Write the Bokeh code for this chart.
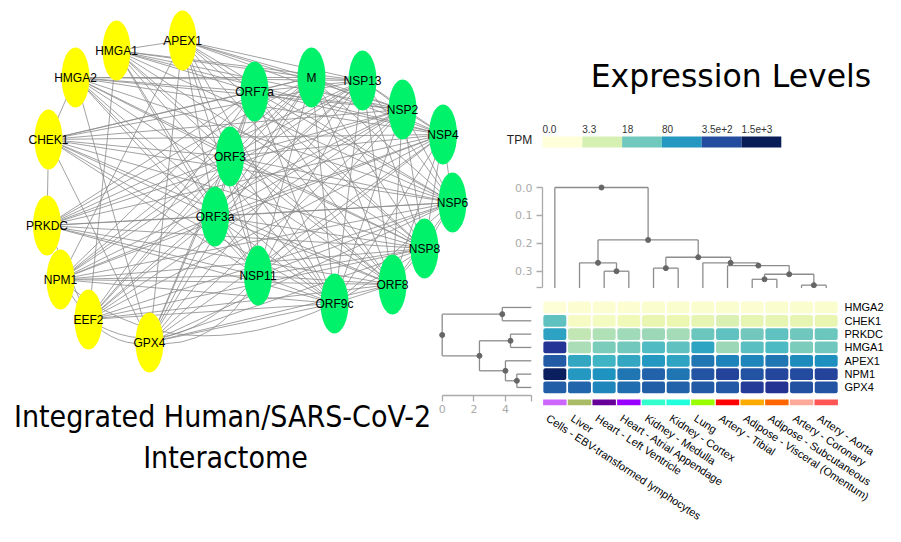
import numpy as np
from bokeh.plotting import figure
from bokeh.models import Range1d, LinearAxis, FixedTicker, ColumnDataSource, LinearColorMapper
from bokeh.core.properties import value
from bokeh.transform import transform
from bokeh.embed import file_html
from bokeh.resources import INLINE

W, H = 885, 526

# ---------------- network data ----------------
node_names = ["APEX1", "HMGA1", "HMGA2", "CHEK1", "PRKDC", "NPM1", "EEF2", "GPX4",
              "ORF7a", "M", "NSP13", "NSP2", "NSP4", "NSP6", "NSP8", "ORF8", "ORF9c",
              "NSP11", "ORF3a", "ORF3"]
node_group = ["human"] * 8 + ["viral"] * 12
node_x = [182, 116, 75, 48, 46.5, 60, 88, 149,
          254, 311, 362, 402, 442.5, 452, 424, 392, 334, 257.5, 214.5, 229.5]
node_y = [40, 50, 77, 139, 225, 279, 319, 342,
          91, 77, 80, 109, 134, 202, 248, 284, 303, 275, 216, 156]

edge_lists = [
    ("APEX1", "HMGA1 ORF7a M NSP13 NSP2 NSP4 NSP6 NSP8 ORF8 ORF9c NSP11 ORF3a ORF3 NPM1 GPX4"),
    ("HMGA1", "ORF7a M NSP13 NSP2 NSP4 NSP6 NSP8 ORF8 ORF9c NSP11 ORF3a ORF3 EEF2"),
    ("HMGA2", "CHEK1 ORF7a M NSP13 NSP2 NSP4 NSP6 NSP8 ORF8 ORF9c NSP11 ORF3a ORF3 GPX4"),
    ("CHEK1", "PRKDC ORF7a M NSP13 NSP2 NSP4 NSP6 NSP8 ORF8 ORF9c NSP11 ORF3a ORF3 GPX4"),
    ("PRKDC", "ORF7a M NSP13 NSP2 NSP4 NSP6 NSP8 ORF8 ORF9c NSP11 ORF3a ORF3 EEF2"),
    ("NPM1", "EEF2 ORF7a M NSP13 NSP2 NSP4 NSP6 NSP8 ORF8 ORF9c NSP11 ORF3a ORF3"),
    ("EEF2", "ORF7a M NSP13 NSP2 NSP4 NSP6 NSP8 ORF8 ORF9c ORF3a ORF3"),
    ("GPX4", "ORF7a M NSP13 NSP2 NSP4 NSP6 NSP8 ORF8 ORF9c ORF3a ORF3"),
    ("ORF7a", "M NSP13 NSP2 NSP4 NSP6 NSP8 ORF8 ORF9c NSP11 ORF3a ORF3"),
    ("M", "NSP13 NSP2 NSP4 NSP6 NSP8 ORF8 ORF9c NSP11 ORF3a ORF3"),
    ("NSP13", "NSP2 NSP4 NSP6 NSP8 ORF8 ORF9c NSP11 ORF3a ORF3"),
    ("NSP2", "NSP4 NSP6 NSP8 ORF8 ORF9c NSP11 ORF3a ORF3"),
    ("NSP4", "NSP6 NSP8 ORF8 ORF9c NSP11 ORF3a ORF3"),
    ("NSP6", "NSP8 ORF8 ORF9c NSP11 ORF3a ORF3"),
    ("NSP8", "ORF8 ORF9c NSP11 ORF3a ORF3"),
    ("ORF8", "ORF9c NSP11 ORF3a ORF3"),
    ("ORF9c", "NSP11 ORF3a ORF3"),
    ("NSP11", "ORF3a ORF3"),
    ("ORF3a", "ORF3"),
]
# curved edges: source, target, control point
curve_src = ["EEF2", "GPX4", "EEF2", "NPM1"]
curve_tgt = ["GPX4", "NSP11", "NSP11", "ORF9c"]
curve_cx = [118, 215, 170, 175]
curve_cy = [348, 352, 372, 378]

# ---------------- expression data ----------------
tissues = ["Cells - EBV-transformed lymphocytes", "Liver", "Heart - Left Ventricle",
           "Heart - Atrial Appendage", "Kidney - Medulla", "Kidney - Cortex", "Lung",
           "Artery - Tibial", "Adipose - Visceral (Omentum)", "Adipose - Subcutaneous",
           "Artery - Coronary", "Artery - Aorta"]
tissue_colors = ["#cc66ff", "#aabb66", "#660099", "#9900ff", "#33ffcc", "#22ffdd",
                 "#99ff00", "#ff0000", "#ffaa00", "#ff6600", "#ffaa99", "#ff5555"]
genes = ["HMGA2", "CHEK1", "PRKDC", "HMGA1", "APEX1", "NPM1", "GPX4"]
tpm_HMGA2 = [0.1, 0.2, 0.2, 0.2, 0.3, 0.3, 0.3, 0.3, 0.2, 0.3, 0.3, 0.3]
tpm_CHEK1 = [24, 0.7, 0.8, 1.2, 1.8, 1.6, 2.0, 3.0, 2.0, 2.0, 2.0, 1.8]
tpm_PRKDC = [63, 5.7, 7.3, 9.3, 10, 8.6, 20, 24, 17.5, 24, 19, 20]
tpm_HMGA1 = [570, 8, 15, 17.5, 30, 24, 59, 10, 26, 32, 15, 19]
tpm_APEX1 = [257, 54, 40, 54, 79, 59, 153, 123, 114, 153, 106, 98]
tpm_NPM1 = [1370, 79, 92, 153, 223, 153, 297, 426, 297, 396, 368, 426]
tpm_GPX4 = [239, 207, 114, 178, 239, 223, 257, 276, 495, 615, 319, 297]
gene_tpm = [tpm_HMGA2, tpm_CHEK1, tpm_PRKDC, tpm_HMGA1, tpm_APEX1, tpm_NPM1, tpm_GPX4]

legend_values = [0.0, 3.3, 18, 80, 350, 1500]
legend_labels = ["0.0", "3.3", "18", "80", "3.5e+2", "1.5e+3"]

# column dendrogram (leaves = tissue order), linkage style: child a, child b, height
col_merge_a = [2, 4, 8, 10, 14, 7, 6, 13, 1, 20, 0]
col_merge_b = [3, 5, 9, 11, 15, 16, 17, 18, 12, 19, 21]
col_merge_h = [0.300, 0.289, 0.329, 0.350, 0.311, 0.280, 0.270, 0.250, 0.270, 0.188, 0.0]
col_leaf_h = 0.36
col_ticks = [0.0, 0.1, 0.2, 0.3]

# row dendrogram (leaves = gene order)
row_merge_a = [0, 2, 5, 4, 8, 7]
row_merge_b = [1, 3, 6, 9, 10, 11]
row_merge_h = [3.79, 4.31, 4.71, 3.99, 2.35, 0.0]
row_leaf_h = 5.62
row_ticks = [0, 2, 4]

# ---------------- layout constants ----------------
DXR, DYR = -11.0, -12.0              # shift of the expression block so it fits
CW, RH = 24.67, 13.33                # heatmap cell pitch (px)
HX0, HY0 = 553.0 + DXR, 312.3 + DYR  # heatmap top-left (px)
DY0, DH = 199.0 + DYR, 279.0         # column dendrogram zero and px per unit
RX0, RD = 452.7 + DXR, 15.85         # row dendrogram zero and px per unit
LX0, LW = 553.0 + DXR, 39.8          # legend

p = figure(width=W, height=H, x_range=Range1d(0, W), y_range=Range1d(H, 0),
           output_backend="svg", toolbar_location=None, min_border=0,
           x_axis_location=None, y_axis_location=None, outline_line_color=None,
           background_fill_color="white", border_fill_color="white")
p.grid.visible = False
p.extra_x_ranges = {
    "col": Range1d(-HX0 / CW, (W - HX0) / CW),
    "rd": Range1d(-RX0 / RD, (W - RX0) / RD),
    "leg": Range1d(-LX0 / LW, (W - LX0) / LW),
}
p.extra_y_ranges = {
    "row": Range1d((H - HY0) / RH, -HY0 / RH),
    "dend": Range1d((H - DY0) / DH, -DY0 / DH),
}

ARIAL = value("Liberation Sans")

# ---- network edges ----
pos = {n: (x, y) for n, x, y in zip(node_names, node_x, node_y)}
ex0, ey0, ex1, ey1 = [], [], [], []
for s, targets in edge_lists:
    for t in targets.split():
        ex0.append(pos[s][0]); ey0.append(pos[s][1])
        ex1.append(pos[t][0]); ey1.append(pos[t][1])
p.segment(ex0, ey0, ex1, ey1, line_color="#8a8a8a", line_width=0.8)
p.quadratic(x0=[pos[s][0] for s in curve_src], y0=[pos[s][1] for s in curve_src],
            x1=[pos[t][0] for t in curve_tgt], y1=[pos[t][1] for t in curve_tgt],
            cx=curve_cx, cy=curve_cy, line_color="#8a8a8a", line_width=0.8)

node_colors = ["#ffff00" if g == "human" else "#00f26b" for g in node_group]
p.ellipse(node_x, node_y, width=28, height=60, fill_color=node_colors, line_color=None)
p.text(node_x, node_y, text=node_names, text_align="center", text_baseline="middle",
       text_font=ARIAL, text_font_size="12px", text_color="black")

# ---- titles ----
p.text([222], [416], text=["Integrated Human/SARS-CoV-2"], text_align="center",
       text_baseline="alphabetic", text_font=value("DejaVu Sans Condensed"),
       text_font_size="30px", text_color="black")
p.text([225], [457], text=["Interactome"], text_align="center",
       text_baseline="alphabetic", text_font=value("DejaVu Sans Condensed"),
       text_font_size="30px", text_color="black")
p.text([730.5], [75], text=["Expression Levels"], text_align="center",
       text_baseline="alphabetic", text_font=value("DejaVu Sans"),
       text_font_size="31.5px", text_color="black")

# ---- color scale ----
base = ["#ffffd9", "#edf8b1", "#c7e9b4", "#7fcdbb", "#41b6c4", "#1d91c0", "#225ea8", "#253494", "#081d58"]
rgb = np.array([[int(c[i:i + 2], 16) for i in (1, 3, 5)] for c in base], float)
tt = np.linspace(0, 1, 256)
src_t = np.linspace(0, 1, len(base))
pal = ["#%02x%02x%02x" % tuple(int(round(np.interp(t, src_t, rgb[:, k]))) for k in range(3)) for t in tt]
mapper = LinearColorMapper(palette=pal, low=0, high=float(np.log1p(legend_values[-1])))

# ---- legend ----
leg_src = ColumnDataSource(dict(x=[i + 0.5 for i in range(len(legend_values))],
                                lx=[float(i) for i in range(len(legend_values))],
                                logv=[float(np.log1p(v)) for v in legend_values],
                                label=legend_labels))
p.rect(x="x", y=153.5 + DYR, width=1.0, height=11, source=leg_src, x_range_name="leg",
       fill_color=transform("logv", mapper), line_color=None)
p.text(x="lx", y=140 + DYR, text="label", source=leg_src, x_range_name="leg",
       text_align="left", text_baseline="middle", text_font=ARIAL,
       text_font_size="10px", text_color="#333333")
p.text([530 + DXR], [151 + DYR], text=["TPM"], text_align="center", text_baseline="middle",
       text_font=ARIAL, text_font_size="12px", text_color="#222222")

# ---- heatmap ----
cx, cy, cv = [], [], []
for r, vals in enumerate(gene_tpm):
    for c, v in enumerate(vals):
        cx.append(c + 0.5); cy.append(r + 0.5); cv.append(float(np.log1p(v)))
heat_src = ColumnDataSource(dict(x=cx, y=cy, logv=cv))
try:
    p.rect(x="x", y="y", width=0.93, height=0.88, source=heat_src, x_range_name="col",
           y_range_name="row", fill_color=transform("logv", mapper), line_color=None,
           border_radius=2)
except Exception:
    p.rect(x="x", y="y", width=0.93, height=0.88, source=heat_src, x_range_name="col",
           y_range_name="row", fill_color=transform("logv", mapper), line_color=None)

# tissue colour strip
p.rect(x=[c + 0.5 for c in range(len(tissues))], y=[7.62] * len(tissues), width=0.95,
       height=0.43, x_range_name="col", y_range_name="row", fill_color=tissue_colors,
       line_color=None)

# gene labels
p.text(x=[12.24] * len(genes), y=[r + 0.5 for r in range(len(genes))], text=genes,
       x_range_name="col", y_range_name="row", text_align="left", text_baseline="middle",
       text_font=ARIAL, text_font_size="11px", text_color="black")
# tissue labels
p.text(x=[c + 0.2 for c in range(len(tissues))], y=[428.5 + DYR] * len(tissues), text=tissues,
       x_range_name="col", angle=-0.58, text_align="left", text_baseline="middle",
       text_font=ARIAL, text_font_size="11px", text_color="black")


# ---- dendrograms ----
def dendro(n_leaves, a, b, h, leaf_h):
    posd = {i: (i + 0.5, leaf_h) for i in range(n_leaves)}
    s0, s1, s2, s3, dx, dy = [], [], [], [], [], []
    for k, (ia, ib, hh) in enumerate(zip(a, b, h)):
        xa, ha = posd[ia]
        xb, hb = posd[ib]
        for seg in ((xa, ha, xa, hh), (xa, hh, xb, hh), (xb, hh, xb, hb)):
            s0.append(seg[0]); s1.append(seg[1]); s2.append(seg[2]); s3.append(seg[3])
        posd[n_leaves + k] = ((xa + xb) / 2, hh)
        dx.append((xa + xb) / 2); dy.append(hh)
    return s0, s1, s2, s3, dx, dy

LINE = "#8c8c8c"
DOT = "#666666"
s0, s1, s2, s3, dx, dy = dendro(len(tissues), col_merge_a, col_merge_b, col_merge_h, col_leaf_h)
p.segment(s0, s1, s2, s3, x_range_name="col", y_range_name="dend", line_color=LINE, line_width=1.3)
p.scatter(dx, dy, x_range_name="col", y_range_name="dend", size=5, color=DOT)

s0, s1, s2, s3, dx, dy = dendro(len(genes), row_merge_a, row_merge_b, row_merge_h, row_leaf_h)
p.segment(s1, s0, s3, s2, x_range_name="rd", y_range_name="row", line_color=LINE, line_width=1.3)
p.scatter(dy, dx, x_range_name="rd", y_range_name="row", size=5, color=DOT)

AX = "#aaaaaa"
yax = LinearAxis(y_range_name="dend", fixed_location=HX0,
                 ticker=FixedTicker(ticks=col_ticks, minor_ticks=[col_leaf_h]),
                 bounds=(0, col_leaf_h))
yax.major_label_overrides = {0: "0.0"}
xax = LinearAxis(x_range_name="rd", fixed_location=406.7 + DYR,
                 ticker=FixedTicker(ticks=row_ticks, minor_ticks=[row_leaf_h]),
                 bounds=(0, row_leaf_h))
for ax in (yax, xax):
    ax.axis_line_color = AX
    ax.axis_line_width = 1.3
    ax.major_tick_line_color = AX
    ax.minor_tick_line_color = AX
    ax.major_tick_line_width = 1.3
    ax.minor_tick_line_width = 1.3
    ax.major_tick_out = 6
    ax.major_tick_in = 0
    ax.minor_tick_out = 6
    ax.minor_tick_in = 0
    ax.major_label_text_color = AX
    ax.major_label_text_font = "DejaVu Sans"
    ax.major_label_text_font_size = "11px"
    ax.major_label_standoff = 4
p.add_layout(yax, "left")
p.add_layout(xax, "below")

open("out.html", "w").write(file_html(p, INLINE))
